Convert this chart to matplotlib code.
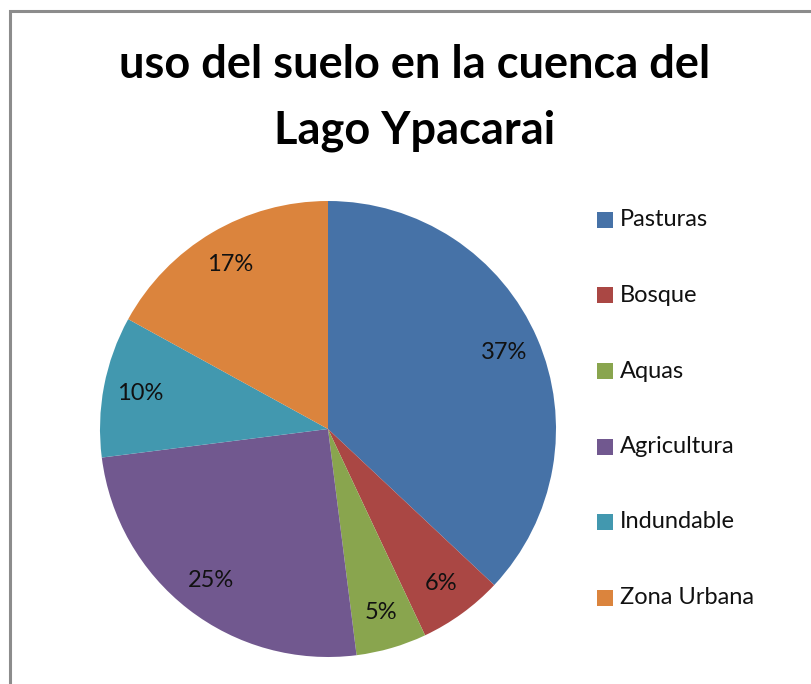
import matplotlib.pyplot as plt
from matplotlib.patches import Rectangle

# datos del grafico
categorias = ['Pasturas', 'Bosque', 'Aquas', 'Agricultura', 'Indundable', 'Zona Urbana']
porcentajes = [37, 6, 5, 25, 10, 17]
colores = ['#4672A7', '#AA4744', '#89A54E', '#71588F', '#4298AF', '#DB843D']
titulo = 'uso del suelo en la cuenca del\nLago Ypacarai'

plt.rcParams['font.family'] = ['Lato', 'DejaVu Sans']

W, H = 811, 684
fig = plt.figure(figsize=(W / 100, H / 100), dpi=100)

# marco gris del grafico (solo se ve arriba y a la izquierda)
fig.patches.append(Rectangle((9.5 / W, -0.1), 1.2, (H - 11.5) / H + 0.1,
                             transform=fig.transFigure, fill=False,
                             edgecolor='#8C8C8C', linewidth=2.2))

# pastel: centro (328, 429) px, radio 228 px
cx, cy, r = 328, H - 429, 228
ax = fig.add_axes([(cx - r) / W, (cy - r) / H, 2 * r / W, 2 * r / H])
ax.pie(porcentajes, colors=colores, startangle=90, counterclock=False,
       radius=1, autopct='%1.0f%%', pctdistance=0.84,
       wedgeprops=dict(linewidth=0),
       textprops=dict(fontsize=17, color='#111111'))
ax.set_xlim(-1, 1)
ax.set_ylim(-1, 1)
ax.set_aspect('equal')
ax.axis('off')

fig.text(415 / W, 1 - 98 / H, titulo, ha='center', va='center',
         fontsize=32.5, fontweight='bold', linespacing=1.68)

# leyenda manual
for i, (cat, col) in enumerate(zip(categorias, colores)):
    y = 220 + i * 75.5
    fig.patches.append(Rectangle((597 / W, 1 - (y + 8) / H), 16 / W, 16 / H,
                                 transform=fig.transFigure, facecolor=col,
                                 edgecolor='none'))
    fig.text(620 / W, 1 - y / H, cat, ha='left', va='center',
             fontsize=17, color='#111111')

fig.savefig('out.png', dpi=100)
